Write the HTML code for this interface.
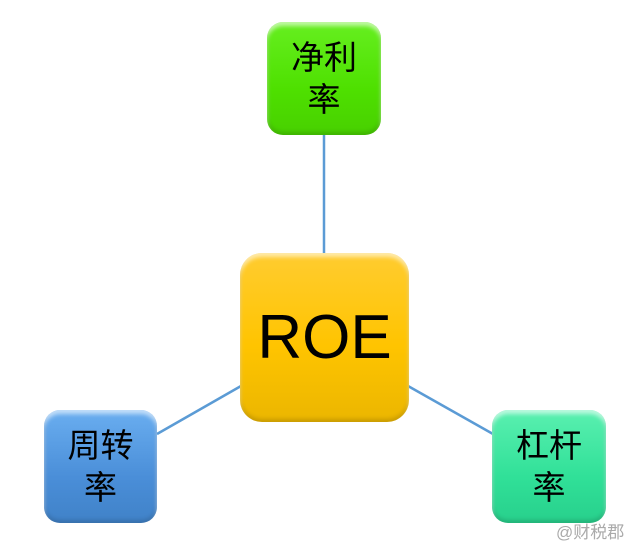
<!DOCTYPE html>
<html><head><meta charset="utf-8"><style>
body{margin:0;width:640px;height:552px;background:#fff;position:relative;overflow:hidden;font-family:"Liberation Sans","Noto Sans CJK SC",sans-serif}
.b{position:absolute;border-radius:16px;display:flex;align-items:center;justify-content:center;text-align:center;color:#000;box-sizing:border-box;line-height:1.25;box-shadow:inset 0 4px 4px rgba(255,255,255,.6),inset 0 -3px 4px rgba(0,0,0,.15)}
.s{font-size:33px}
</style></head><body>
<svg style="position:absolute;left:0;top:0" width="640" height="552">
<line x1="324" y1="135" x2="324" y2="254" stroke="#5b9bd5" stroke-width="2.5"/>
<line x1="157" y1="434" x2="241" y2="386" stroke="#5b9bd5" stroke-width="2.5"/>
<line x1="408" y1="386" x2="493" y2="434" stroke="#5b9bd5" stroke-width="2.5"/>
</svg>
<div class="b s" style="left:267px;top:22px;width:114px;height:113px;background:linear-gradient(#66ef20,#4ee000 60%,#48d000)">净利<br>率</div>
<div class="b" style="left:240px;top:253px;width:169px;height:169px;border-radius:22px;background:linear-gradient(#ffcc30,#ffc400 55%,#ebb600);font-size:62px;font-family:'Liberation Sans',sans-serif">ROE</div>
<div class="b s" style="left:44px;top:410px;width:113px;height:113px;background:linear-gradient(#6aaef0,#4a8ed8 60%,#4082c8)">周转<br>率</div>
<div class="b s" style="left:492px;top:410px;width:114px;height:113px;background:linear-gradient(#5af0b0,#30e098 60%,#28d08c)">杠杆<br>率</div>
<div style="position:absolute;left:556px;top:518px;font-size:17px;color:#aaa">@财税郡</div>
</body></html>
